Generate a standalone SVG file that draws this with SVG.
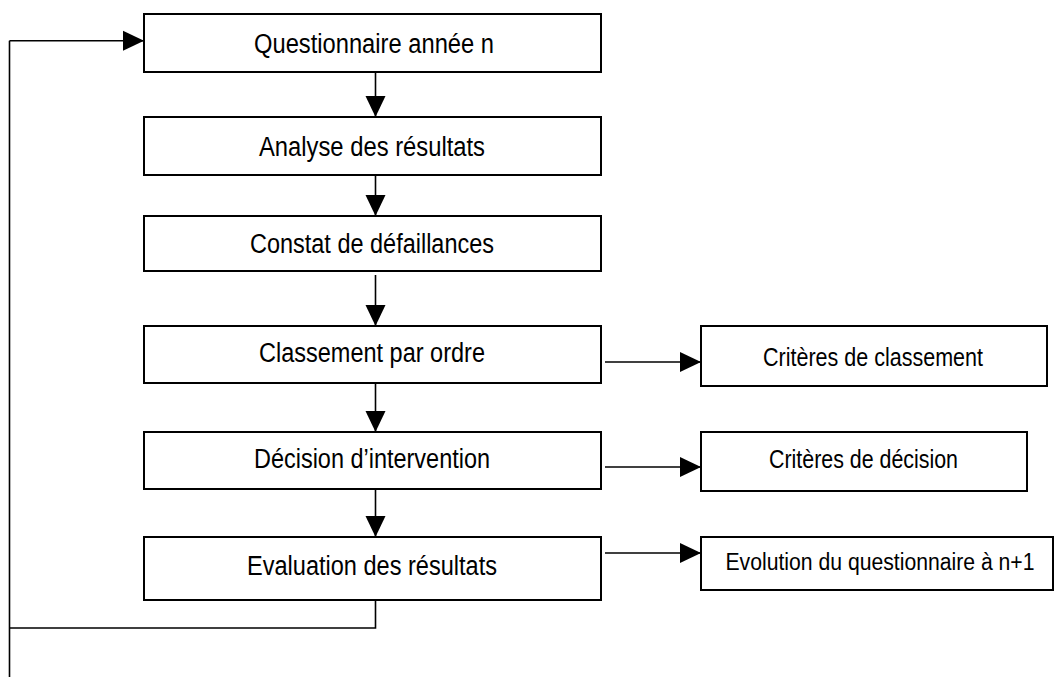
<svg xmlns="http://www.w3.org/2000/svg" width="1055" height="677" viewBox="0 0 1055 677">
  <style>
    .box { fill: #ffffff; stroke: #000000; stroke-width: 2; }
    .lbl { font-family: "Liberation Sans", Arial, sans-serif; font-size: 27px; fill: #000000; text-anchor: middle; }
    .rl { font-size: 25px; }
    .rs { font-size: 23px; }
    .conn { fill: none; stroke: #000000; stroke-width: 1.6; }
  </style>
  <defs>
    <marker id="arrow" markerUnits="userSpaceOnUse" markerWidth="21" markerHeight="21" refX="21" refY="10.5" orient="auto" viewBox="0 0 21 21">
      <path d="M0,0.5 L21,10.5 L0,20.5 Z" fill="#000000"/>
    </marker>
  </defs>
  <rect width="1055" height="677" fill="#ffffff"/>

  <g id="connectors">
    <line class="conn" x1="375.5" y1="63" x2="375.5" y2="117" marker-end="url(#arrow)"/>
    <line class="conn" x1="375.5" y1="170" x2="375.5" y2="216" marker-end="url(#arrow)"/>
    <line class="conn" x1="375.5" y1="275" x2="375.5" y2="326" marker-end="url(#arrow)"/>
    <line class="conn" x1="375.5" y1="377" x2="375.5" y2="432" marker-end="url(#arrow)"/>
    <line class="conn" x1="375.5" y1="482" x2="375.5" y2="537" marker-end="url(#arrow)"/>
    <line class="conn" x1="605" y1="362" x2="701" y2="362" marker-end="url(#arrow)"/>
    <line class="conn" x1="605" y1="467" x2="701" y2="467" marker-end="url(#arrow)"/>
    <line class="conn" x1="605" y1="553" x2="701" y2="553" marker-end="url(#arrow)"/>
    <polyline class="conn" points="375.5,588 375.5,628 9.5,628"/>
    <line class="conn" x1="9.5" y1="40.7" x2="9.5" y2="677"/>
    <line class="conn" x1="9.5" y1="40.7" x2="144" y2="40.7" marker-end="url(#arrow)"/>
  </g>

  <g id="n1">
    <rect class="box" x="144" y="14" width="457" height="58"/>
    <text class="lbl" x="374" y="53" textLength="240" lengthAdjust="spacingAndGlyphs">Questionnaire année n</text>
  </g>
  <g id="n2">
    <rect class="box" x="144" y="117" width="457" height="58"/>
    <text class="lbl" x="372" y="156" textLength="226" lengthAdjust="spacingAndGlyphs">Analyse des résultats</text>
  </g>
  <g id="n3">
    <rect class="box" x="144" y="216" width="457" height="55"/>
    <text class="lbl" x="372" y="253" textLength="244" lengthAdjust="spacingAndGlyphs">Constat de défaillances</text>
  </g>
  <g id="n4">
    <rect class="box" x="144" y="326" width="457" height="57"/>
    <text class="lbl" x="372" y="362" textLength="226" lengthAdjust="spacingAndGlyphs">Classement par ordre</text>
  </g>
  <g id="n5">
    <rect class="box" x="144" y="432" width="457" height="57"/>
    <text class="lbl" x="372" y="468" textLength="236" lengthAdjust="spacingAndGlyphs">Décision d’intervention</text>
  </g>
  <g id="n6">
    <rect class="box" x="144" y="537" width="457" height="63"/>
    <text class="lbl" x="372" y="575" textLength="250" lengthAdjust="spacingAndGlyphs">Evaluation des résultats</text>
  </g>
  <g id="r1">
    <rect class="box" x="701" y="326" width="346" height="60"/>
    <text class="lbl rl" x="873" y="366" textLength="220" lengthAdjust="spacingAndGlyphs">Critères de classement</text>
  </g>
  <g id="r2">
    <rect class="box" x="701" y="432" width="326" height="59"/>
    <text class="lbl rl" x="863.5" y="468" textLength="189" lengthAdjust="spacingAndGlyphs">Critères de décision</text>
  </g>
  <g id="r3">
    <rect class="box" x="701" y="537" width="352" height="53"/>
    <text class="lbl rs" x="880" y="570" textLength="309" lengthAdjust="spacingAndGlyphs">Evolution du questionnaire à n+1</text>
  </g>
</svg>
